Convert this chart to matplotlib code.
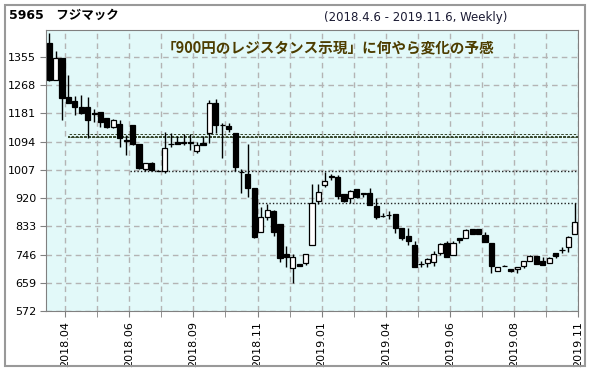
import numpy as np
import matplotlib.pyplot as plt
from matplotlib.patches import Rectangle

# weekly candles 2018.4.6 - 2019.11.6
opens = [1398, 1283, 1351, 1231, 1219, 1200, 1202, 1183, 1185, 1167,
         1140, 1148, 1098, 1144, 1088, 1011, 1029, 1005, 1004, 1088,
         1094, 1093, 1093, 1066, 1091, 1120, 1212, 1146, 1142, 1122,
         1001, 994, 950, 815, 861, 880, 840, 747, 704, 716,
         721, 774, 912, 960, 987, 984, 933, 919, 947, 936,
         937, 896, 866, 869, 871, 827, 803, 775, 718, 719,
         724, 752, 783, 744, 796, 798, 824, 824, 806, 783,
         696, 712, 700, 702, 711, 726, 740, 727, 719, 752,
         761, 768, 809]
highs = [1430, 1374, 1351, 1299, 1234, 1239, 1233, 1196, 1185, 1168,
         1165, 1162, 1114, 1146, 1088, 1029, 1031, 1008, 1125, 1122,
         1111, 1117, 1117, 1094, 1111, 1222, 1224, 1151, 1151, 1122,
         1010, 1087, 952, 894, 902, 882, 840, 772, 747, 718,
         747, 963, 963, 999, 994, 991, 933, 946, 947, 937,
         950, 919, 875, 879, 871, 827, 827, 789, 727, 735,
         758, 781, 789, 789, 796, 826, 824, 824, 817, 783,
         709, 714, 700, 709, 726, 746, 740, 737, 739, 752,
         768, 803, 904]
lows = [1280, 1283, 1162, 1214, 1177, 1179, 1105, 1154, 1138, 1136,
        1136, 1077, 1052, 1085, 1011, 1003, 1004, 1002, 996, 1077,
        1087, 1084, 1068, 1058, 1083, 1090, 1122, 1043, 1125, 1002,
        935, 922, 797, 815, 852, 803, 724, 707, 657, 710,
        714, 774, 901, 955, 976, 916, 909, 904, 920, 922,
        899, 855, 862, 855, 813, 790, 775, 709, 709, 709,
        711, 745, 739, 744, 783, 796, 809, 809, 785, 690,
        696, 710, 691, 690, 704, 726, 717, 714, 719, 736,
        752, 753, 809]
closes = [1283, 1351, 1227, 1214, 1200, 1183, 1162, 1180, 1154, 1139,
          1160, 1105, 1096, 1088, 1013, 1027, 1006, 1004, 1074, 1086,
          1087, 1091, 1091, 1084, 1083, 1212, 1145, 1144, 1132, 1015,
          999, 952, 799, 861, 882, 815, 734, 739, 739, 712,
          747, 904, 940, 972, 985, 927, 912, 943, 922, 934,
          899, 863, 864, 867, 827, 796, 789, 709, 716, 731,
          748, 779, 739, 783, 791, 822, 809, 809, 785, 711,
          709, 710, 695, 709, 726, 742, 717, 714, 734, 743,
          759, 801, 845]

yticks = [572, 659, 746, 833, 920, 1007, 1094, 1181, 1268, 1355]
xlabels = ['2018.04', '2018.06', '2018.09', '2018.11', '2019.01',
           '2019.04', '2019.06', '2019.08', '2019.11']

band = (1105, 1117)
lines = [(12.6, 1004), (32.1, 905)]

o = np.array(opens)
h = np.array(highs)
l = np.array(lows)
c = np.array(closes)
x = np.arange(len(o))

fig = plt.figure(figsize=(5.9, 3.71), dpi=100)
ax = fig.add_axes([46 / 590, 60 / 371, 532 / 590, 281 / 371])
ax.set_facecolor('#e2f9f9')

ax.vlines(x, l, h, color='black', lw=1, zorder=3)
up = c >= o
ax.bar(x, np.abs(c - o), bottom=np.minimum(o, c), width=0.8,
       color=np.where(up, 'white', 'black'), edgecolor='black', lw=0.9, zorder=4)

# resistance band and lines
ax.fill_between([3.0, 82.5], band[0], band[1], facecolor='none',
                edgecolor='#3a4a30', hatch='oooo', lw=0, zorder=2)
for x0, v in lines:
    ax.hlines(v, x0, 82.5, color='#222222', lw=1, linestyles=(0, (1, 1.5)), zorder=2)

ax.set_xlim(-0.5, 82.5)
ax.set_ylim(572, 1438)
ax.set_yticks(yticks)
ax.set_yticklabels([str(v) for v in yticks], fontsize=8)
ax.set_xticks(np.arange(2.5, 83, 5))
ax.set_xticks(np.arange(2.5, 83, 10), minor=False)
ax.set_xticks(np.arange(7.5, 83, 10), minor=True)
ax.set_xticklabels(xlabels, rotation=90, fontsize=8)
ax.tick_params(axis='both', which='both', color='#808080', length=4, pad=3)
ax.grid(True, which='both', color='#b4b4b4', ls=(0, (4, 3)), lw=1, zorder=1)
ax.set_axisbelow(True)
for s in ax.spines.values():
    s.set_color('#808080')

fig.text(9 / 590, 1 - 15 / 371, '5965\u3000フジマック', fontsize=9, fontweight='bold',
         family=['DejaVu Sans', 'Noto Sans CJK JP'], va='center', ha='left')
fig.text(416 / 590, 1 - 18 / 371, '(2018.4.6 - 2019.11.6, Weekly)', fontsize=8.5,
         color='#1a1a33', va='center', ha='center')
fig.text(328 / 590, 1 - 47 / 371, '「900円のレジスタンス示現」に何やら変化の予感',
         fontsize=10.5, fontweight='bold', color='#4d3d00',
         family=['Noto Sans CJK JP', 'DejaVu Sans'], va='center', ha='center')

fig.patches.append(Rectangle((5 / 590, 5 / 371), 580 / 590, 361 / 371,
                             transform=fig.transFigure, fill=False,
                             edgecolor='#999999', lw=1.5))

fig.savefig('out.png', dpi=100)
